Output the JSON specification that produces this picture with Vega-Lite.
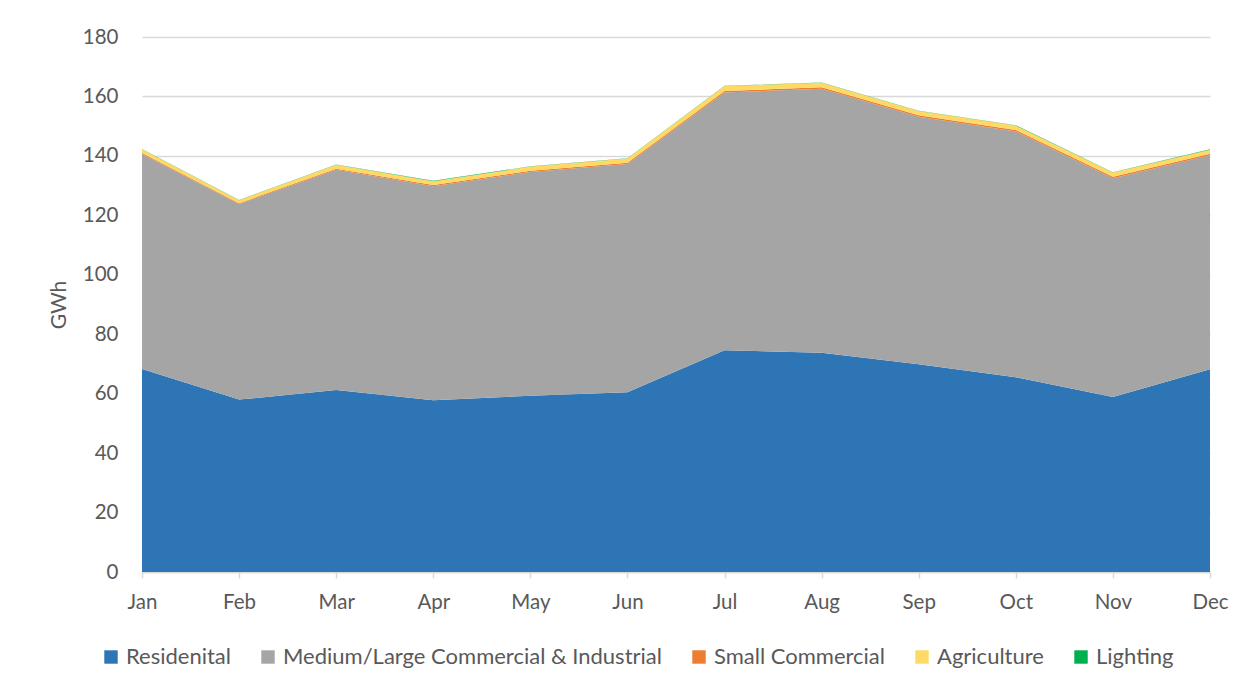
{
  "$schema": "https://vega.github.io/schema/vega-lite/v6.json",
  "autosize": {"type": "none"},
  "width": 1068,
  "height": 535,
  "padding": {"left": 142, "top": 37, "right": 40, "bottom": 117},
  "background": "white",
  "config": {
    "view": {"stroke": null},
    "font": "Lato",
    "axis": {"labelFont": "Lato", "titleFont": "Lato", "labelColor": "#595959", "titleColor": "#595959"}
  },
  "data": {
    "values": [
      {"month": "Jan", "sector": "Residenital", "ord": 1, "gwh": 68.3},
      {"month": "Jan", "sector": "Medium/Large Commercial & Industrial", "ord": 2, "gwh": 72.3},
      {"month": "Jan", "sector": "Small Commercial", "ord": 3, "gwh": 0.4},
      {"month": "Jan", "sector": "Agriculture", "ord": 4, "gwh": 1.2},
      {"month": "Jan", "sector": "Lighting", "ord": 5, "gwh": 0.1},
      {"month": "Feb", "sector": "Residenital", "ord": 1, "gwh": 58.0},
      {"month": "Feb", "sector": "Medium/Large Commercial & Industrial", "ord": 2, "gwh": 65.8},
      {"month": "Feb", "sector": "Small Commercial", "ord": 3, "gwh": 0.3},
      {"month": "Feb", "sector": "Agriculture", "ord": 4, "gwh": 1.0},
      {"month": "Feb", "sector": "Lighting", "ord": 5, "gwh": 0.1},
      {"month": "Mar", "sector": "Residenital", "ord": 1, "gwh": 61.2},
      {"month": "Mar", "sector": "Medium/Large Commercial & Industrial", "ord": 2, "gwh": 74.1},
      {"month": "Mar", "sector": "Small Commercial", "ord": 3, "gwh": 0.4},
      {"month": "Mar", "sector": "Agriculture", "ord": 4, "gwh": 1.3},
      {"month": "Mar", "sector": "Lighting", "ord": 5, "gwh": 0.1},
      {"month": "Apr", "sector": "Residenital", "ord": 1, "gwh": 57.8},
      {"month": "Apr", "sector": "Medium/Large Commercial & Industrial", "ord": 2, "gwh": 72.0},
      {"month": "Apr", "sector": "Small Commercial", "ord": 3, "gwh": 0.4},
      {"month": "Apr", "sector": "Agriculture", "ord": 4, "gwh": 1.3},
      {"month": "Apr", "sector": "Lighting", "ord": 5, "gwh": 0.1},
      {"month": "May", "sector": "Residenital", "ord": 1, "gwh": 59.3},
      {"month": "May", "sector": "Medium/Large Commercial & Industrial", "ord": 2, "gwh": 75.3},
      {"month": "May", "sector": "Small Commercial", "ord": 3, "gwh": 0.4},
      {"month": "May", "sector": "Agriculture", "ord": 4, "gwh": 1.4},
      {"month": "May", "sector": "Lighting", "ord": 5, "gwh": 0.1},
      {"month": "Jun", "sector": "Residenital", "ord": 1, "gwh": 60.5},
      {"month": "Jun", "sector": "Medium/Large Commercial & Industrial", "ord": 2, "gwh": 76.8},
      {"month": "Jun", "sector": "Small Commercial", "ord": 3, "gwh": 0.4},
      {"month": "Jun", "sector": "Agriculture", "ord": 4, "gwh": 1.4},
      {"month": "Jun", "sector": "Lighting", "ord": 5, "gwh": 0.1},
      {"month": "Jul", "sector": "Residenital", "ord": 1, "gwh": 74.6},
      {"month": "Jul", "sector": "Medium/Large Commercial & Industrial", "ord": 2, "gwh": 86.7},
      {"month": "Jul", "sector": "Small Commercial", "ord": 3, "gwh": 0.5},
      {"month": "Jul", "sector": "Agriculture", "ord": 4, "gwh": 1.7},
      {"month": "Jul", "sector": "Lighting", "ord": 5, "gwh": 0.1},
      {"month": "Aug", "sector": "Residenital", "ord": 1, "gwh": 73.8},
      {"month": "Aug", "sector": "Medium/Large Commercial & Industrial", "ord": 2, "gwh": 88.8},
      {"month": "Aug", "sector": "Small Commercial", "ord": 3, "gwh": 0.5},
      {"month": "Aug", "sector": "Agriculture", "ord": 4, "gwh": 1.5},
      {"month": "Aug", "sector": "Lighting", "ord": 5, "gwh": 0.1},
      {"month": "Sep", "sector": "Residenital", "ord": 1, "gwh": 69.9},
      {"month": "Sep", "sector": "Medium/Large Commercial & Industrial", "ord": 2, "gwh": 83.3},
      {"month": "Sep", "sector": "Small Commercial", "ord": 3, "gwh": 0.5},
      {"month": "Sep", "sector": "Agriculture", "ord": 4, "gwh": 1.4},
      {"month": "Sep", "sector": "Lighting", "ord": 5, "gwh": 0.1},
      {"month": "Oct", "sector": "Residenital", "ord": 1, "gwh": 65.5},
      {"month": "Oct", "sector": "Medium/Large Commercial & Industrial", "ord": 2, "gwh": 82.7},
      {"month": "Oct", "sector": "Small Commercial", "ord": 3, "gwh": 0.5},
      {"month": "Oct", "sector": "Agriculture", "ord": 4, "gwh": 1.5},
      {"month": "Oct", "sector": "Lighting", "ord": 5, "gwh": 0.1},
      {"month": "Nov", "sector": "Residenital", "ord": 1, "gwh": 58.9},
      {"month": "Nov", "sector": "Medium/Large Commercial & Industrial", "ord": 2, "gwh": 73.6},
      {"month": "Nov", "sector": "Small Commercial", "ord": 3, "gwh": 0.5},
      {"month": "Nov", "sector": "Agriculture", "ord": 4, "gwh": 1.4},
      {"month": "Nov", "sector": "Lighting", "ord": 5, "gwh": 0.1},
      {"month": "Dec", "sector": "Residenital", "ord": 1, "gwh": 68.2},
      {"month": "Dec", "sector": "Medium/Large Commercial & Industrial", "ord": 2, "gwh": 72.0},
      {"month": "Dec", "sector": "Small Commercial", "ord": 3, "gwh": 0.5},
      {"month": "Dec", "sector": "Agriculture", "ord": 4, "gwh": 1.4},
      {"month": "Dec", "sector": "Lighting", "ord": 5, "gwh": 0.1}
    ]
  },
  "mark": {"type": "area", "interpolate": "linear"},
  "encoding": {
    "x": {
      "field": "month",
      "type": "ordinal",
      "sort": ["Jan","Feb","Mar","Apr","May","Jun","Jul","Aug","Sep","Oct","Nov","Dec"],
      "scale": {"type": "point", "padding": 0},
      "axis": {
        "title": null,
        "labelAngle": 0,
        "labelFontSize": 20.5,
        "labelPadding": 14,
        "domainColor": "#d9d9d9",
        "domainWidth": 1.5,
        "tickColor": "#d9d9d9",
        "tickSize": 6,
        "tickWidth": 1.5,
        "grid": false
      }
    },
    "y": {
      "field": "gwh",
      "type": "quantitative",
      "aggregate": "sum",
      "stack": "zero",
      "scale": {"domain": [0, 180], "nice": false},
      "axis": {
        "title": "GWh",
        "titleFontSize": 21,
        "titleFontWeight": "normal",
        "titlePadding": 13,
        "labelFontSize": 20.5,
        "labelPadding": 24,
        "values": [0,20,40,60,80,100,120,140,160,180],
        "ticks": false,
        "domain": false,
        "grid": true,
        "gridColor": "#d9d9d9",
        "gridWidth": 1.5
      }
    },
    "color": {
      "field": "sector",
      "type": "nominal",
      "scale": {
        "domain": ["Residenital", "Medium/Large Commercial & Industrial", "Small Commercial", "Agriculture", "Lighting"],
        "range": ["#2E75B6", "#A5A5A5", "#ED7D31", "#FFD966", "#00B050"]
      },
      "legend": {
        "title": null,
        "orient": "none",
        "direction": "horizontal",
        "legendX": -42,
        "legendY": 609,
        "symbolType": "square",
        "symbolSize": 180,
        "symbolStrokeWidth": 0,
        "labelFontSize": 22,
        "labelColor": "#595959",
        "labelOffset": 4,
        "columnPadding": 26,
        "labelLimit": 600
      }
    },
    "order": {"field": "ord", "type": "quantitative", "aggregate": "min"}
  }
}
